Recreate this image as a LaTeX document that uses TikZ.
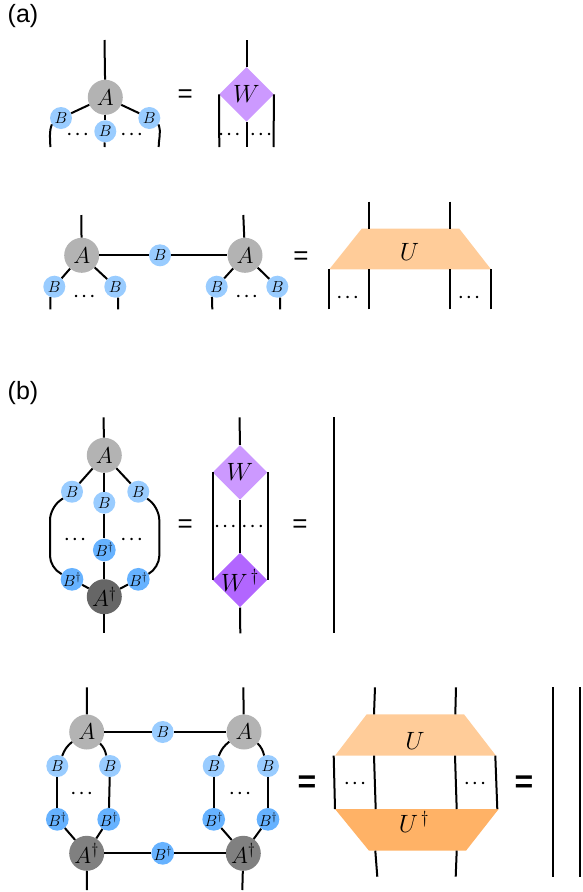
\documentclass[tikz,border=0pt]{standalone}
\usepackage{fix-cm}
\usepackage{fontspec}
\usepackage{xcolor}
\usetikzlibrary{shapes.geometric}
\setsansfont{Liberation Sans}
\definecolor{agrey}{HTML}{B3B3B3}
\definecolor{adark}{HTML}{666666}
\definecolor{amid}{HTML}{808080}
\definecolor{blight}{HTML}{99CCFF}
\definecolor{bdark}{HTML}{66B2FF}
\definecolor{wlight}{HTML}{CC99FF}
\definecolor{wdark}{HTML}{B266FF}
\definecolor{ulight}{HTML}{FFCC99}
\definecolor{udark}{HTML}{FFB266}
\begin{document}
\begin{tikzpicture}[
  x=1pt, y=-1pt,
  leg/.style={draw=black, line width=2pt},
  site/.style={circle, inner sep=0pt, minimum size=35pt, fill=agrey, font=\fontsize{23}{25}\selectfont},
  sitedag/.style={site, fill=adark},
  bond/.style={circle, inner sep=0pt, minimum size=22pt, fill=blight, font=\fontsize{16}{18}\selectfont},
  bonddag/.style={bond, fill=bdark},
  iso/.style={diamond, aspect=1, inner sep=0pt, minimum width=54.6pt, minimum height=54.6pt, fill=wlight, font=\fontsize{25}{27}\selectfont},
  trapname/.style={inner sep=0pt, font=\fontsize{25}{27}\selectfont},
  eq/.style={inner sep=0pt, font=\sffamily\fontsize{26}{28}\selectfont},
  eqbig/.style={inner sep=0pt, font=\sffamily\bfseries\fontsize{32}{34}\selectfont},
  dots/.style={inner sep=0pt, font=\boldmath\fontsize{16}{18}\selectfont},
  tag/.style={inner sep=0pt, font=\sffamily\fontsize{25}{28}\selectfont}
]
\useasboundingbox (0,0) rectangle (582,892);
\node[tag] (taga) at (23,16) {(a)};
\node[tag] (tagb) at (23,393) {(b)};

% W tensor
\node[site] (A1) at (105.3,97.3) {$A$};
\node[bond] (B1l) at (61,118) {$B$};
\node[bond] (B1m) at (105.3,131.3) {$B$};
\node[bond] (B1r) at (149.3,118) {$B$};
\node[eq] (eq1) at (185.3,96) {=};
\node[iso] (W1) at (246.5,94.3) {$W$};
\coordinate (t1) at (104.5,40);
\coordinate (d1l) at (50.3,147);
\coordinate (d1m) at (104.5,147);
\coordinate (d1r) at (158.7,147);
\coordinate (t1w) at (246.5,40);
\coordinate (d1wl) at (219.3,147);
\coordinate (d1wm) at (246.5,147);
\coordinate (d1wr) at (273.5,147);
\draw[leg] (t1) -- (A1);
\draw[leg] (A1) -- (B1l);
\draw[leg] (A1) -- (B1m);
\draw[leg] (A1) -- (B1r);
\draw[leg] (B1m) -- (d1m);
\draw[leg] (B1l.215) to[out=250,in=90] (d1l);
\draw[leg] (B1r.325) to[out=290,in=90] (d1r);
\draw[leg] (t1w) -- (W1.north);
\draw[leg] (W1.west) -- (d1wl);
\draw[leg] (W1.south) -- (d1wm);
\draw[leg] (W1.east) -- (d1wr);
\node[dots] (dots1) at (77.7,135) {$\cdots$};
\node[dots] (dots2) at (131.7,135) {$\cdots$};
\node[dots] (dots3) at (229.3,135) {${\cdot}\mkern3mu{\cdot}\mkern3mu{\cdot}$};
\node[dots] (dots4) at (261,135) {$\cdots$};

% U tensor
\node[site] (A2l) at (81.7,255.3) {$A$};
\node[site] (A2r) at (245,255.3) {$A$};
\node[bond] (B2m) at (160,255.3) {$B$};
\node[bond] (B2a) at (54.3,286.7) {$B$};
\node[bond] (B2b) at (115.3,286.7) {$B$};
\node[bond] (B2c) at (216.7,286.7) {$B$};
\node[bond] (B2d) at (277.3,286.7) {$B$};
\node[eq] (eq2) at (301,258) {=};
\coordinate (u2a) at (361.7,228.7);
\coordinate (u2b) at (459.3,228.7);
\coordinate (u2c) at (491,269.3);
\coordinate (u2d) at (329.3,269.3);
\fill[ulight] (u2a) -- (u2b) -- (u2c) -- (u2d) -- cycle;
\node[trapname] (U2) at (409.5,252) {$U$};
\coordinate (t2l) at (81.3,215);
\coordinate (t2r) at (243.3,215);
\coordinate (d2a) at (50.3,309.3);
\coordinate (d2b) at (118,309.3);
\coordinate (d2c) at (212.3,309.3);
\coordinate (d2d) at (280,309.3);
\coordinate (t2ul) at (369,201.7);
\coordinate (t2ur) at (450,201.7);
\coordinate (d2ua) at (328.5,309.3);
\coordinate (d2ub) at (369,309.3);
\coordinate (d2uc) at (450,309.3);
\coordinate (d2ud) at (490.5,309.3);
\draw[leg] (t2l) -- (A2l);
\draw[leg] (t2r) -- (A2r);
\draw[leg] (A2l) -- (B2m);
\draw[leg] (B2m) -- (A2r);
\draw[leg] (A2l) -- (B2a);
\draw[leg] (A2l) -- (B2b);
\draw[leg] (A2r) -- (B2c);
\draw[leg] (A2r) -- (B2d);
\draw[leg] (B2a.250) -- (d2a);
\draw[leg] (B2b.285) -- (d2b);
\draw[leg] (B2c.245) -- (d2c);
\draw[leg] (B2d.285) -- (d2d);
\draw[leg] (t2ul) -- (t2ul |- u2a);
\draw[leg] (t2ur) -- (t2ur |- u2a);
\draw[leg] (d2ua) -- (d2ua |- u2d);
\draw[leg] (d2ub) -- (d2ub |- u2d);
\draw[leg] (d2uc) -- (d2uc |- u2d);
\draw[leg] (d2ud) -- (d2ud |- u2d);
\node[dots] (dots5) at (84.3,296.7) {$\cdots$};
\node[dots] (dots6) at (246.7,296.7) {$\cdots$};
\node[dots] (dots7) at (347.7,297.3) {$\cdots$};
\node[dots] (dots8) at (469,297.3) {$\cdots$};

% W isometry
\node[site] (A3) at (104.3,455.3) {$A$};
\node[sitedag] (A3d) at (104.3,596.7) {$A^{\dagger}$};
\node[bond] (B3l) at (72,491.7) {$B$};
\node[bond] (B3m) at (104.3,502.7) {$B$};
\node[bond] (B3r) at (138.3,491.7) {$B$};
\node[bonddag] (B3dl) at (72,579.3) {$B^{\dagger}$};
\node[bonddag] (B3dm) at (104.3,550) {$B^{\dagger}$};
\node[bonddag] (B3dr) at (138.3,579.3) {$B^{\dagger}$};
\node[eq] (eq3) at (185.3,526) {=};
\node[eq] (eq4) at (300,526) {=};
\node[iso] (W3) at (240,472.3) {$W$};
\node[iso, fill=wdark] (W3d) at (240,580) {\makebox[0pt]{\raisebox{-11pt}[0pt][0pt]{$W^{\,\dagger}$}}};
\coordinate (t3) at (103.5,417.3);
\coordinate (d3) at (104.3,633.3);
\coordinate (t3w) at (239.5,417.3);
\coordinate (d3w) at (240.3,633.3);
\coordinate (t3i) at (334,417.3);
\coordinate (d3i) at (334,633.3);
\coordinate (c3a) at (50,508);
\coordinate (c3b) at (50,568);
\coordinate (c3c) at (159.3,508);
\coordinate (c3d) at (159.3,568);
\draw[leg] (t3) -- (A3);
\draw[leg] (A3) -- (B3l);
\draw[leg] (A3) -- (B3m);
\draw[leg] (A3) -- (B3r);
\draw[leg] (B3m) -- (B3dm);
\draw[leg] (B3dm) -- (A3d);
\draw[leg] (B3dl) -- (A3d);
\draw[leg] (B3dr) -- (A3d);
\draw[leg] (A3d) -- (d3);
\draw[leg, rounded corners=12pt] (B3l) -- (c3a) -- (c3b) -- (B3dl);
\draw[leg, rounded corners=12pt] (B3r) -- (c3c) -- (c3d) -- (B3dr);
\draw[leg] (t3w) -- (W3.north);
\draw[leg] (W3.south) -- (W3d.north);
\draw[leg] (W3d.south) -- (d3w);
\draw[leg] (W3.west) -- (W3d.west);
\draw[leg] (W3.east) -- (W3d.east);
\draw[leg] (t3i) -- (d3i);
\node[dots] (dots9) at (75,540) {$\cdots$};
\node[dots] (dots10) at (131.7,540) {$\cdots$};
\node[dots] (dots11) at (225.3,526.7) {$\cdots$};
\node[dots] (dots12) at (252.7,526.7) {$\cdots$};

% U isometry
\node[site] (A4l) at (86.7,732) {$A$};
\node[site] (A4r) at (244,732) {$A$};
\node[sitedag, fill=amid] (A4dl) at (86.7,853.3) {$A^{\dagger}$};
\node[sitedag, fill=amid] (A4dr) at (243.3,853.3) {$A^{\dagger}$};
\node[bond] (B4m) at (162.7,732) {$B$};
\node[bonddag] (B4dm) at (162.7,853.3) {$B^{\dagger}$};
\node[bond] (B4a) at (57.3,766) {$B$};
\node[bond] (B4b) at (110,766) {$B$};
\node[bond] (B4c) at (213.7,766) {$B$};
\node[bond] (B4d) at (268,766) {$B$};
\node[bonddag] (B4da) at (57.3,819.3) {$B^{\dagger}$};
\node[bonddag] (B4db) at (108.7,819.3) {$B^{\dagger}$};
\node[bonddag] (B4dc) at (213.7,819.3) {$B^{\dagger}$};
\node[bonddag] (B4dd) at (268,819.3) {$B^{\dagger}$};
\node[eqbig] (eq5) at (307,784) {=};
\node[eqbig] (eq6) at (524,784) {=};
\coordinate (u4a) at (366.7,714.3);
\coordinate (u4b) at (464,714.3);
\coordinate (u4c) at (496,755.7);
\coordinate (u4d) at (335,755.7);
\coordinate (v4a) at (335,809);
\coordinate (v4b) at (498.7,809);
\coordinate (v4c) at (466,850.7);
\coordinate (v4d) at (369,850.7);
\fill[ulight] (u4a) -- (u4b) -- (u4c) -- (u4d) -- cycle;
\fill[udark] (v4a) -- (v4b) -- (v4c) -- (v4d) -- cycle;
\node[trapname] (U4) at (415,741) {$U$};
\node[trapname] (U4d) at (414,822) {$U^{\,\dagger}$};
\coordinate (t4l) at (87,687.3);
\coordinate (t4r) at (243.3,687.3);
\coordinate (d4l) at (87,890);
\coordinate (d4r) at (242.3,890);
\coordinate (t4ua) at (375,687.3);
\coordinate (e4ua) at (374,714.3);
\coordinate (t4ub) at (456,687.3);
\coordinate (e4ub) at (455.3,714.3);
\coordinate (m4a) at (333.7,755.7);
\coordinate (m4b) at (374,755.7);
\coordinate (n4b) at (375.7,809);
\coordinate (m4c) at (455,755.7);
\coordinate (n4c) at (456.7,809);
\coordinate (m4d) at (495.3,755.7);
\coordinate (n4d) at (497.3,809);
\coordinate (e4da) at (375.3,850.7);
\coordinate (d4ua) at (377.3,876.7);
\coordinate (e4db) at (456.7,850.7);
\coordinate (d4ub) at (455.7,876.7);
\coordinate (t4i) at (553.3,687.3);
\coordinate (d4i) at (553.3,876.7);
\coordinate (t4j) at (580,687.3);
\coordinate (d4j) at (580,876.7);
\draw[leg] (t4l) -- (A4l);
\draw[leg] (t4r) -- (A4r);
\draw[leg] (A4dl) -- (d4l);
\draw[leg] (A4dr) -- (d4r);
\draw[leg] (A4l) -- (B4m);
\draw[leg] (B4m) -- (A4r);
\draw[leg] (A4dl) -- (B4dm);
\draw[leg] (B4dm) -- (A4dr);
\draw[leg] (A4l) to[bend right=15] (B4a);
\draw[leg] (A4l) to[bend left=15] (B4b);
\draw[leg] (A4r) to[bend right=15] (B4c);
\draw[leg] (A4r) to[bend left=15] (B4d);
\draw[leg] (B4a) -- (B4da);
\draw[leg] (B4b) -- (B4db);
\draw[leg] (B4c) -- (B4dc);
\draw[leg] (B4d) -- (B4dd);
\draw[leg] (B4da) -- (A4dl);
\draw[leg] (B4db) -- (A4dl);
\draw[leg] (B4dc) -- (A4dr);
\draw[leg] (B4dd) -- (A4dr);
\draw[leg] (t4ua) -- (e4ua);
\draw[leg] (t4ub) -- (e4ub);
\draw[leg] (m4a) -- (v4a);
\draw[leg] (m4b) -- (n4b);
\draw[leg] (m4c) -- (n4c);
\draw[leg] (m4d) -- (n4d);
\draw[leg] (e4da) -- (d4ua);
\draw[leg] (e4db) -- (d4ub);
\draw[leg] (t4i) -- (d4i);
\draw[leg] (t4j) -- (d4j);
\node[dots] (dots13) at (81.7,793.3) {$\cdots$};
\node[dots] (dots14) at (240,793.3) {$\cdots$};
\node[dots] (dots15) at (355,783.3) {$\cdots$};
\node[dots] (dots16) at (475,783.3) {$\cdots$};
\end{tikzpicture}
\end{document}
